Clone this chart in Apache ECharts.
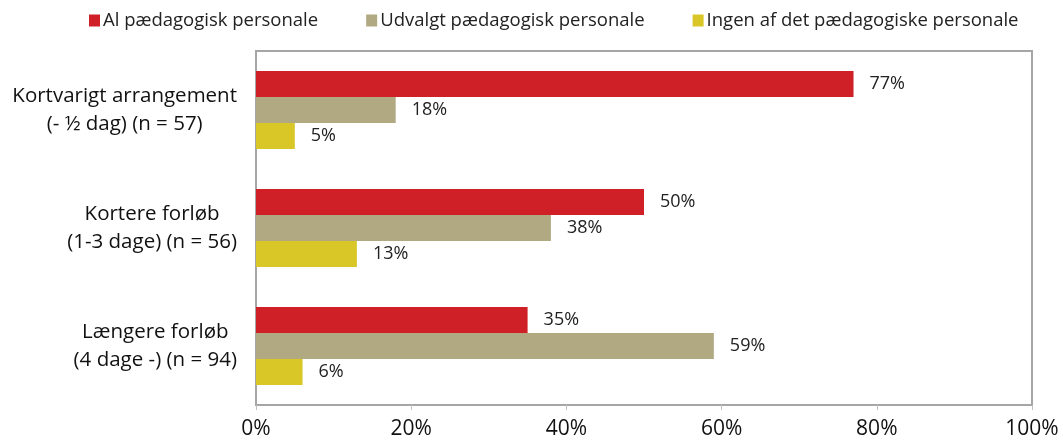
<!DOCTYPE html>
<html>
<head>
<meta charset="utf-8">
<script src="https://cdn.jsdelivr.net/npm/echarts@6/dist/echarts.min.js"></script>
<style>
  html, body { margin: 0; padding: 0; background: #fff; }
  #chart { width: 1063px; height: 440px; }
</style>
</head>
<body>
<div id="chart"></div>
<script>
const categories = [
  ["Kortvarigt arrangement", "(- ½ dag) (n = 57)"],
  ["Kortere forløb", "(1-3 dage) (n = 56)"],
  ["Længere forløb", "(4 dage -) (n = 94)"]
];
const seriesNames = [
  "Al pædagogisk personale",
  "Udvalgt pædagogisk personale",
  "Ingen af det pædagogiske personale"
];
const alValues = [77, 50, 35];
const udvalgtValues = [18, 38, 59];
const ingenValues = [5, 13, 6];
const xTicks = [0, 20, 40, 60, 80, 100];
const colors = ["#cf2027", "#b1a982", "#d9c627"];

const font = "'Open Sans', 'DejaVu Sans', sans-serif";
const values = [alValues, udvalgtValues, ingenValues];

const chart = echarts.init(document.getElementById("chart"));
chart.setOption({
  animation: false,
  textStyle: { fontFamily: font },
  legend: {
    top: 6,
    left: 84,
    itemWidth: 11,
    itemHeight: 12,
    itemGap: 48,
    icon: "rect",
    textStyle: { fontSize: 18.5, color: "#222", padding: [0, 0, 0, -2] },
    data: seriesNames
  },
  grid: {
    left: 256, right: 31, top: 51, bottom: 34,
    show: true, borderColor: "#a6a6a6", borderWidth: 2
  },
  xAxis: {
    type: "value",
    min: xTicks[0],
    max: xTicks[xTicks.length - 1],
    interval: 20,
    axisLine: { show: false },
    axisTick: { show: true, length: 5, lineStyle: { color: "#bfbfbf" } },
    splitLine: { show: false },
    axisLabel: {
      formatter: "{value}%", fontSize: 21, color: "#111", margin: 14
    }
  },
  yAxis: {
    type: "category",
    inverse: true,
    data: categories.map(c => c.join("\n")),
    axisLine: { show: false },
    axisTick: { show: false },
    axisLabel: {
      margin: 19,
      formatter: v => v.split("\n").map(s => "{c|" + s + "}").join("\n"),
      rich: { c: { fontSize: 20.5, color: "#111", align: "center", lineHeight: 28, fontFamily: font } }
    }
  },
  series: seriesNames.map((name, i) => ({
    name,
    type: "bar",
    data: values[i],
    barGap: "0%",
    barCategoryGap: "34%",
    itemStyle: { color: colors[i] },
    label: {
      show: true, position: "right", distance: 16,
      formatter: "{c}%", fontSize: 18, color: "#222"
    }
  }))
});
</script>
</body>
</html>
